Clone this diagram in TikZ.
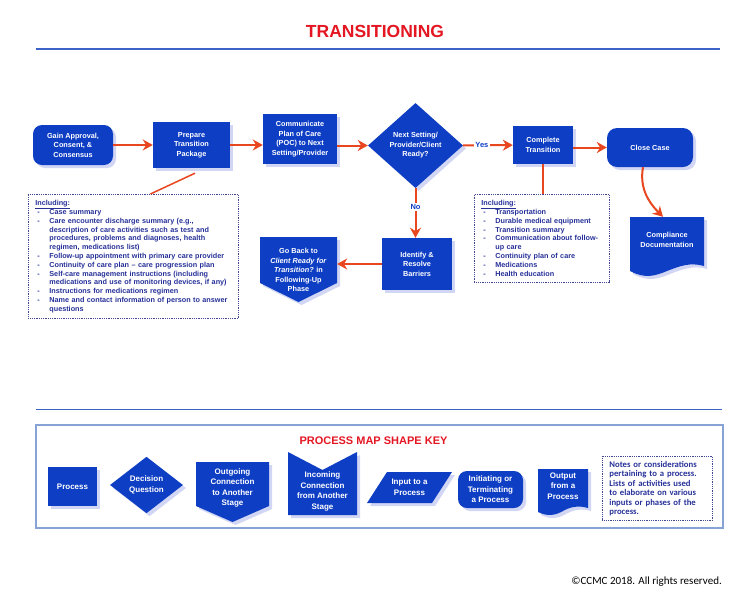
\documentclass[tikz,border=0pt]{standalone}
\usepackage{fontspec}
\setmainfont{Liberation Sans}
\newfontfamily\calibrifont{Carlito}
\usetikzlibrary{shapes.geometric,arrows.meta,shadows}
\definecolor{boxblue}{RGB}{14,62,196}
\definecolor{flowred}{RGB}{232,70,30}
\definecolor{titlered}{RGB}{228,22,34}
\definecolor{ruleblue}{RGB}{60,100,200}
\definecolor{notetext}{RGB}{38,48,152}
\definecolor{keyborder}{RGB}{135,162,212}
\definecolor{shadowblue}{RGB}{178,186,236}
\newenvironment{notelist}[1]{\begin{list}{-}{\setlength{\leftmargin}{#1}\setlength{\labelwidth}{#1}\setlength{\labelsep}{0pt}\setlength{\itemsep}{0pt}\setlength{\parsep}{0pt}\setlength{\topsep}{0pt}\setlength{\partopsep}{0pt}\def\makelabel##1{\hspace{2pt}##1\hfil}}}{\end{list}}
\begin{document}
\begin{tikzpicture}[x=1pt, y=-1pt,
        boxshadow/.style={drop shadow={shadow xshift=3pt, shadow yshift=-3pt, fill=shadowblue, opacity=.6}},
        proc/.style={fill=boxblue, text=white, font=\bfseries\fontsize{7.3}{9.5}\selectfont, align=center, inner sep=1pt, boxshadow},
        term/.style={proc, rounded corners=9pt},
        decision/.style={proc, diamond},
        keyfont/.style={font=\bfseries\fontsize{8}{10.5}\selectfont},
        doclabel/.style={text=white, font=\bfseries\fontsize{7.3}{9.5}\selectfont, align=center, inner sep=1pt},
        flow/.style={draw=flowred, line width=2pt, -{Stealth[length=10pt, width=11pt]}},
        link/.style={draw=flowred, line width=1.5pt},
        yesno/.style={fill=white, text=boxblue, font=\bfseries\fontsize{7.5}{9}\selectfont, inner sep=1.5pt},
        notebox/.style={draw=notetext!70!gray, densely dotted, line width=0.8pt, text=notetext, font=\bfseries\fontsize{7.25}{8.8}\selectfont, align=left, inner xsep=7pt, inner ysep=6pt, anchor=north west}]
    \useasboundingbox (0,0) rectangle (750,600);
    \node[text=titlered, font=\bfseries\fontsize{17.5}{20}\selectfont] (title) at (375,31) {TRANSITIONING};
    \draw[ruleblue, line width=1.8pt] (36,49) -- (720,49);
    \node[term, minimum width=80pt, minimum height=40pt] (gain) at (73,145) {Gain Approval,\\Consent, \&\\Consensus};
    \node[proc, minimum width=77pt, minimum height=46pt] (prep) at (191.5,145) {Prepare\\Transition\\Package};
    \node[proc, minimum width=74pt, minimum height=50pt] (poc) at (300,139) {Communicate\\Plan of Care\\(POC) to Next\\Setting/Provider};
    \node[decision, minimum width=95pt, minimum height=85pt] (ready) at (415.5,145.5) {Next Setting/\\Provider/Client\\Ready?};
    \node[proc, minimum width=60pt, minimum height=38pt] (compl) at (543,145) {Complete\\Transition};
    \node[term, rounded corners=10pt, minimum width=86pt, minimum height=39pt] (close) at (650,147.5) {Close Case};
    \node[proc, minimum width=70pt, minimum height=52pt] (barr) at (417,264) {Identify \&\\Resolve\\Barriers};
    \fill[boxblue, boxshadow] (260,237) -- (337,237) -- (337,283) -- (298.5,302) -- (260,283) -- cycle;
    \node[doclabel, minimum width=77pt] (goback) at (298.5,270) {Go Back to\\\textit{Client Ready for}\\\textit{Transition?} in\\Following-Up\\Phase};
    \fill[boxblue, boxshadow] (630,217) -- (704,217) -- (704,266) .. controls (690,262) and (680,266) .. (667,271) .. controls (655,276) and (645,279) .. (630,271) -- cycle;
    \node[doclabel, minimum width=74pt, minimum height=46pt] (doc) at (667,240) {Compliance\\Documentation};
    \node[notebox, text width=196pt] (note1) at (28,194) {\underline{Including:}
        \begin{notelist}{14pt}
            \item Case summary
            \item Care encounter discharge summary (e.g.,\\description of care activities such as test and\\procedures, problems and diagnoses, health\\regimen, medications list)
            \item Follow-up appointment with primary care provider
            \item Continuity of care plan -- care progression plan
            \item Self-care management instructions (including\\medications and use of monitoring devices, if any)
            \item Instructions for medications regimen
            \item Name and contact information of person to answer\\questions
        \end{notelist}};
    \node[notebox, text width=121pt] (note2) at (474,194) {\underline{Including:}
        \begin{notelist}{14pt}
            \item Transportation
            \item Durable medical equipment
            \item Transition summary
            \item Communication about follow-\\up care
            \item Continuity plan of care
            \item Medications
            \item Health education
        \end{notelist}};
    \draw[flow] (gain) -- (prep);
    \draw[flow] (prep) -- (poc.west |- prep);
    \draw[flow] (poc.east |- ready) -- (ready);
    \draw[flow] (ready) -- node[yesno, pos=0.38] {Yes} (compl);
    \draw[flow] (compl.east |- close) -- (close);
    \draw[flow] (ready.south) -- node[yesno, pos=0.38] {No} (ready.south |- barr.north);
    \draw[flow] (barr) -- (barr.west -| goback.east);
    \draw[flow] ([xshift=-7pt]close.south) to[out=-100, in=135] ([xshift=-4pt]doc.north);
    \draw[link] ([xshift=3.5pt, yshift=-5pt]prep.south) -- ([xshift=17pt]note1.north);
    \draw[link] (compl.south) -- (compl.south |- note2.north);
    \draw[ruleblue, line width=1.5pt] (36,409.5) -- (722,409.5);
    \draw[keyborder, line width=1.6pt] (36,425) rectangle (723,528);
    \node[text=titlered, font=\bfseries\fontsize{11}{13}\selectfont] (keyhead) at (373.5,441) {PROCESS MAP SHAPE KEY};
    \node[proc, keyfont, minimum width=49pt, minimum height=39pt] (kproc) at (72.5,486.5) {Process};
    \node[decision, keyfont, minimum width=73pt, minimum height=50pt] (kdec) at (146.5,485) {Decision\\Question};
    \fill[boxblue, boxshadow] (196,462) -- (269,462) -- (269,506) -- (232.5,522) -- (196,506) -- cycle;
    \node[doclabel, keyfont] (kout) at (232.5,488) {Outgoing\\Connection\\to Another\\Stage};
    \fill[boxblue, boxshadow] (288,452) -- (322.5,470) -- (357,452) -- (357,515) -- (288,515) -- cycle;
    \node[doclabel, keyfont] (kin) at (322.5,491.5) {Incoming\\Connection\\from Another\\Stage};
    \fill[boxblue, boxshadow] (367,503) -- (387,472) -- (452,472) -- (432,503) -- cycle;
    \node[doclabel, keyfont] (kinput) at (409.5,487.5) {Input to a\\Process};
    \node[term, keyfont, minimum width=65pt, minimum height=37pt] (kterm) at (490.5,489.5) {Initiating or\\Terminating\\a Process};
    \fill[boxblue, boxshadow] (538,469) -- (588,469) -- (588,508) .. controls (578,505) and (570,507) .. (563,511) .. controls (556,515) and (548,517) .. (538,512) -- cycle;
    \node[doclabel, keyfont] (koutput) at (563,486) {Output\\from a\\Process};
    \node[notebox, font=\calibrifont\bfseries\fontsize{8.7}{9.4}\selectfont, text width=96pt, inner ysep=5pt] (knote) at (602,456) {Notes or considerations\\pertaining to a process.\\Lists of activities used\\to elaborate on various\\inputs or phases of the\\process.};
    \node[anchor=base east, font=\calibrifont\fontsize{11}{13}\selectfont, inner sep=0pt] (rights) at (722,584) {\textcopyright CCMC 2018. All rights reserved.};
\end{tikzpicture}
\end{document}
